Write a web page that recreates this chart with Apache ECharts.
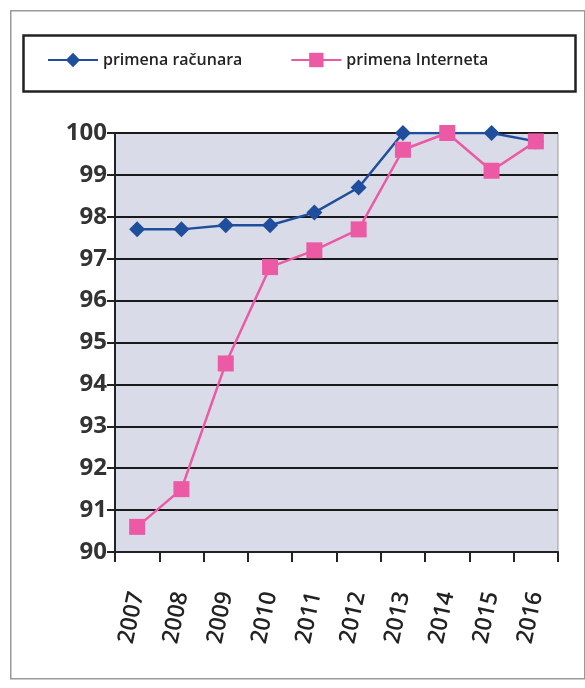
<!DOCTYPE html>
<html>
<head>
<meta charset="utf-8">
<script src="https://cdn.jsdelivr.net/npm/echarts@6/dist/echarts.min.js"></script>
<style>
  html, body { margin: 0; padding: 0; background: #fff; }
  #chart { width: 585px; height: 688px; }
</style>
</head>
<body>
<div id="chart"></div>
<script>
// godine
var years = ['2007', '2008', '2009', '2010', '2011', '2012', '2013', '2014', '2015', '2016']
// primena računara (%)
var racunari = [97.7, 97.7, 97.8, 97.8, 98.1, 98.7, 100, 100, 100, 99.8]
// primena Interneta (%)
var internet = [90.6, 91.5, 94.5, 96.8, 97.2, 97.7, 99.6, 100, 99.1, 99.8]
var yTicks = [90, 100, 1] // min, max, korak

var chart = echarts.init(document.getElementById('chart'))
var font = '"Open Sans", "Noto Sans", sans-serif'

chart.setOption({
  animation: false,
  textStyle: { fontFamily: font },
  graphic: [
    { // okvir oko cele slike
      type: 'rect', left: 10, top: 10, z: -10,
      shape: { width: 574, height: 668 },
      style: { fill: '#fff', stroke: '#9a9a9a', lineWidth: 1.5 }
    },
    { // okvir legende
      type: 'rect', left: 21, top: 33, z: 0,
      shape: { width: 552, height: 56 },
      style: { fill: 'none', stroke: '#222', lineWidth: 2.5 }
    }
  ],
  legend: {
    top: 47,
    left: 42,
    itemWidth: 50,
    itemHeight: 18,
    itemGap: 48,
    textStyle: { fontSize: 16, fontWeight: 600, color: '#222', fontFamily: font },
    data: ['primena računara', 'primena Interneta']
  },
  grid: {
    left: 115, right: 27, top: 133, bottom: 136,
    show: true,
    backgroundColor: '#d9dbe8',
    borderColor: '#9a9a9a',
    borderWidth: 1
  },
  xAxis: {
    type: 'category',
    data: years,
    boundaryGap: true,
    axisLine: { lineStyle: { color: '#222', width: 2 } },
    axisTick: { show: true, length: 10, lineStyle: { color: '#222', width: 2 } },
    axisLabel: {
      interval: 0, rotate: 78, margin: 40,
      fontSize: 23, fontWeight: 600, color: '#222', fontFamily: font
    }
  },
  yAxis: {
    type: 'value',
    min: yTicks[0], max: yTicks[1], interval: yTicks[2],
    axisLine: { show: true, lineStyle: { color: '#222', width: 2 } },
    axisTick: { show: true, length: 8, lineStyle: { color: '#222', width: 2 } },
    axisLabel: { fontSize: 24, fontWeight: 'bold', color: '#333', margin: 8, fontFamily: font },
    splitLine: { lineStyle: { color: '#1a1a1a', width: 2 } }
  },
  series: [
    {
      name: 'primena računara',
      type: 'line',
      data: racunari,
      symbol: 'diamond',
      symbolSize: 16,
      color: '#1f4f9c',
      lineStyle: { width: 2.5 },
      z: 2
    },
    {
      name: 'primena Interneta',
      type: 'line',
      data: internet,
      symbol: 'rect',
      symbolSize: 16,
      color: '#ec5aa5',
      lineStyle: { width: 2.5 },
      z: 3
    }
  ]
})
</script>
</body>
</html>
